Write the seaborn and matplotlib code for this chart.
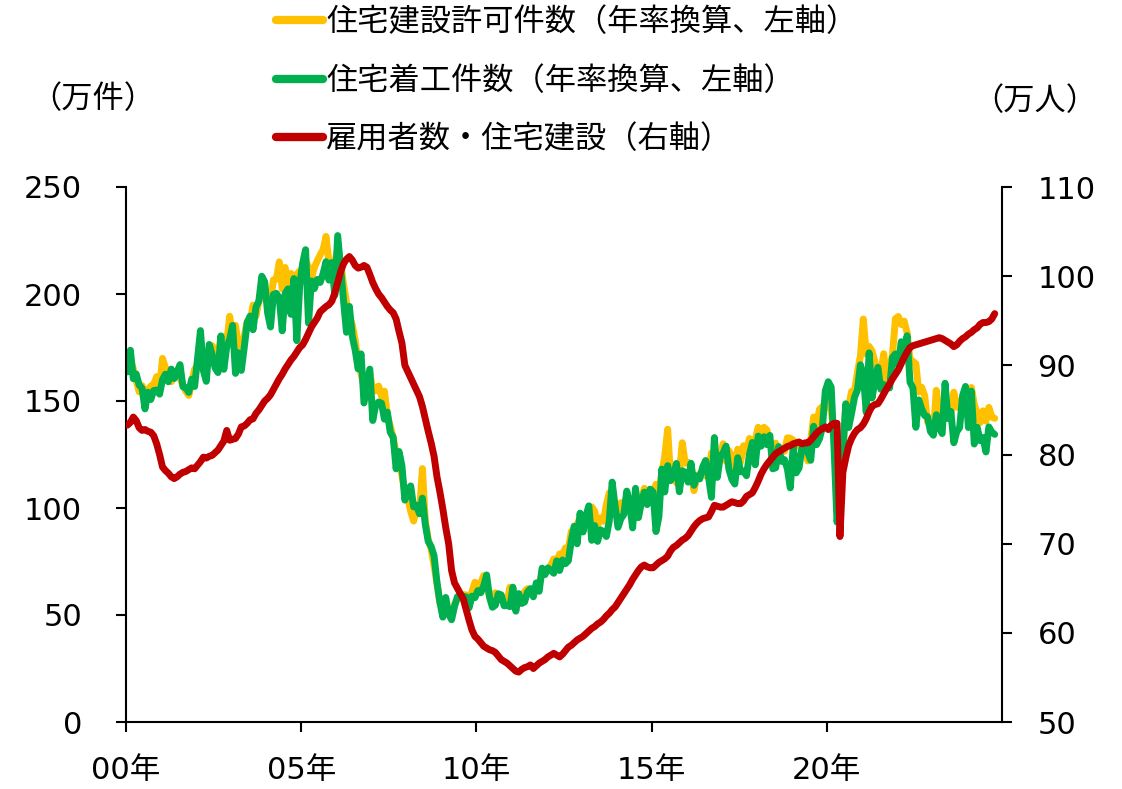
import numpy as np
import pandas as pd
import seaborn as sns
import matplotlib.pyplot as plt
from matplotlib.lines import Line2D

# monthly values, Jan 2000 - Oct 2024
# building permits, annualised (10k units)
permits = [
    172.7, 169.2, 165.1, 159.7, 154.3, 157.2, 154.2, 155.2, 157.0, 157.7, 161.4, 156.1,
    169.9, 165.6, 163.7, 159.0, 162.1, 161.7, 160.9, 157.3, 154.5, 152.6, 158.8, 164.9,
    166.5, 178.7, 169.1, 166.9, 171.6, 175.8, 173.8, 169.5, 180.3, 179.9, 177.1, 189.6,
    180.8, 185.4, 175.7, 176.0, 180.3, 187.1, 186.7, 194.8, 189.6, 196.5, 200.8, 201.2,
    195.2, 196.6, 206.6, 207.0, 215.0, 202.4, 212.4, 202.3, 209.6, 206.1, 209.2, 210.8,
    211.8, 216.0, 212.4, 207.5, 212.4, 215.5, 218.3, 220.7, 226.9, 215.0, 215.0, 214.9,
    221.2, 214.6, 204.5, 196.2, 189.5, 185.6, 178.3, 168.2, 162.9, 156.6, 152.7, 163.0,
    155.4, 154.7, 157.0, 152.1, 154.6, 143.3, 138.3, 133.1, 125.5, 120.2, 115.4, 107.1,
    104.8, 98.4, 93.9, 99.7, 97.6, 118.4, 93.9, 85.5, 80.7, 73.1, 64.7, 55.4,
    53.1, 55.0, 52.0, 49.6, 55.1, 57.3, 59.7, 59.5, 59.4, 56.1, 61.0, 65.3,
    62.7, 65.0, 68.4, 62.5, 59.0, 58.7, 60.4, 57.7, 58.0, 57.6, 56.0, 63.0,
    56.3, 53.4, 58.5, 56.3, 61.0, 62.3, 60.1, 62.5, 61.5, 64.6, 69.8, 70.0,
    71.3, 73.4, 76.2, 74.3, 78.5, 78.2, 81.3, 81.0, 89.0, 89.3, 92.4, 95.5,
    94.2, 95.3, 92.8, 100.5, 98.5, 91.8, 95.4, 93.8, 101.5, 107.1, 105.4, 101.5,
    94.8, 102.5, 99.8, 105.2, 100.5, 97.3, 106.6, 100.2, 104.3, 109.2, 105.1, 106.1,
    106.4, 111.1, 107.6, 116.3, 124.2, 136.8, 114.5, 116.2, 111.7, 116.1, 130.5, 120.9,
    121.4, 120.2, 108.1, 114.5, 116.1, 117.2, 115.0, 115.6, 125.7, 125.2, 121.2, 122.8,
    130.0, 121.9, 126.8, 124.0, 118.9, 127.5, 121.6, 129.1, 126.3, 132.5, 130.2, 132.0,
    137.7, 132.3, 137.7, 136.4, 130.1, 129.2, 130.3, 124.9, 127.0, 126.5, 132.8, 132.6,
    131.7, 129.1, 128.8, 129.0, 129.9, 122.0, 131.7, 142.5, 139.1, 146.1, 147.4, 146.6,
    153.6, 145.2, 135.6, 106.6, 121.6, 125.8, 148.3, 147.6, 154.5, 154.5, 163.5, 170.9,
    188.3, 172.0, 175.5, 173.3, 168.3, 159.8, 163.0, 172.1, 158.6, 165.3, 171.7, 188.5,
    189.5, 185.7, 187.3, 181.9, 169.5, 168.5, 167.4, 154.2, 156.4, 152.6, 140.2, 140.9,
    135.4, 155.0, 143.7, 141.7, 149.6, 144.1, 144.3, 154.1, 147.1, 149.8, 146.7, 149.3,
    148.9, 156.3, 148.5, 144.0, 139.9, 145.4, 140.6, 147.0, 142.5, 141.9,
]

# housing starts, annualised (10k units)
starts = [
    163.6, 173.7, 160.4, 162.6, 157.5, 155.9, 146.3, 154.1, 150.7, 154.9, 155.1, 153.2,
    160.0, 162.5, 159.0, 164.9, 160.5, 163.6, 167.0, 156.7, 156.2, 154.0, 160.2, 156.8,
    169.8, 182.9, 164.2, 159.2, 176.4, 171.7, 165.5, 163.3, 180.4, 164.8, 175.3, 178.8,
    185.3, 162.9, 172.6, 164.3, 175.1, 186.7, 189.7, 183.3, 193.9, 196.7, 208.3, 205.7,
    191.1, 184.6, 199.8, 200.3, 198.1, 182.8, 200.2, 202.4, 190.5, 207.2, 178.2, 204.2,
    214.4, 220.7, 186.4, 206.1, 202.5, 206.8, 205.4, 209.5, 215.1, 206.5, 214.7, 199.4,
    227.3, 211.9, 196.9, 182.1, 194.2, 180.2, 173.7, 165.0, 172.0, 149.1, 157.0, 164.9,
    140.9, 148.0, 149.5, 149.0, 141.5, 144.8, 135.4, 133.0, 118.3, 126.4, 119.7, 103.7,
    108.4, 110.3, 100.5, 101.3, 97.3, 104.6, 92.3, 84.4, 82.0, 77.7, 65.2, 56.0,
    49.0, 58.2, 50.5, 47.8, 54.0, 58.5, 59.4, 58.6, 58.5, 53.4, 58.8, 58.1,
    61.4, 60.4, 63.6, 68.7, 58.3, 53.6, 54.6, 59.9, 59.4, 54.3, 54.5, 53.9,
    63.0, 51.8, 60.0, 55.4, 56.1, 60.8, 62.3, 58.5, 65.0, 61.1, 71.9, 68.9,
    72.0, 70.8, 69.5, 75.3, 70.8, 75.7, 74.0, 75.4, 84.7, 91.5, 83.3, 97.6,
    88.8, 96.2, 101.0, 84.9, 91.8, 84.4, 89.8, 88.9, 86.7, 93.9, 112.1, 100.9,
    91.0, 95.1, 97.0, 107.9, 102.1, 90.7, 109.2, 95.5, 102.5, 107.4, 101.6, 108.8,
    107.5, 89.0, 95.9, 118.2, 107.5, 119.8, 112.8, 115.4, 120.8, 107.6, 117.4, 116.7,
    112.1, 120.9, 110.6, 115.0, 113.6, 119.2, 122.2, 114.5, 105.0, 132.9, 114.3, 123.8,
    125.8, 128.9, 117.9, 113.4, 111.2, 123.5, 116.9, 117.2, 115.1, 124.9, 130.6, 120.2,
    133.6, 128.9, 133.3, 129.6, 133.9, 118.3, 118.8, 128.7, 121.8, 122.6, 118.3, 109.4,
    128.8, 116.4, 118.7, 128.3, 128.0, 125.9, 122.3, 138.2, 129.6, 132.4, 137.7, 154.8,
    159.0, 156.5, 127.6, 93.4, 103.8, 126.5, 148.7, 137.6, 144.4, 151.8, 155.2, 166.9,
    162.5, 144.7, 172.5, 151.4, 159.4, 165.7, 155.5, 157.7, 156.3, 156.1, 170.3, 172.0,
    166.6, 177.7, 171.6, 180.5, 158.8, 156.1, 137.7, 150.5, 146.3, 143.2, 142.7, 135.7,
    134.0, 143.6, 138.0, 134.8, 158.3, 141.8, 145.1, 130.5, 135.6, 137.6, 152.5, 156.8,
    137.6, 154.6, 129.9, 137.7, 131.5, 132.9, 126.2, 137.9, 135.5, 134.4,
]

# employment, residential building (10k persons)
jobs = [
    83.3, 83.6, 84.2, 83.8, 83.0, 82.7, 82.8, 82.6, 82.5, 82.1, 81.2, 80.0,
    78.6, 78.2, 77.9, 77.5, 77.3, 77.5, 77.8, 78.0, 78.1, 78.3, 78.5, 78.4,
    78.8, 79.2, 79.7, 79.6, 79.8, 79.9, 80.2, 80.5, 81.0, 81.5, 82.7, 81.6,
    81.7, 81.8, 82.3, 83.1, 83.2, 83.5, 83.9, 84.0, 84.6, 85.0, 85.5, 86.0,
    86.3, 86.7, 87.3, 87.9, 88.5, 89.0, 89.6, 90.1, 90.6, 91.0, 91.5, 92.0,
    92.3, 92.9, 93.6, 94.3, 94.8, 95.3, 96.0, 96.3, 96.6, 96.8, 97.2, 98.1,
    99.3, 100.5, 101.4, 101.9, 102.2, 101.8, 101.2, 100.9, 101.0, 101.2, 101.0, 100.2,
    99.3, 98.6, 98.0, 97.6, 97.1, 96.6, 96.2, 95.9, 95.2, 93.8, 92.5, 90.0,
    89.3, 88.6, 87.9, 87.2, 86.5, 85.4, 84.0, 82.6, 81.3, 79.8, 77.5, 75.8,
    73.9, 71.8, 70.0, 67.0, 65.6, 65.0, 64.4, 63.8, 62.6, 61.4, 60.3, 59.6,
    59.3, 58.9, 58.5, 58.3, 58.1, 58.0, 57.8, 57.4, 57.0, 56.8, 56.6, 56.3,
    56.0, 55.7, 55.6, 55.9, 56.1, 56.2, 56.4, 56.0, 56.3, 56.6, 56.8, 57.0,
    57.3, 57.5, 57.7, 57.5, 57.3, 57.6, 58.0, 58.4, 58.6, 58.9, 59.2, 59.4,
    59.6, 59.9, 60.2, 60.5, 60.7, 61.0, 61.2, 61.5, 61.9, 62.2, 62.6, 62.9,
    63.4, 63.9, 64.4, 64.9, 65.4, 66.0, 66.5, 67.0, 67.4, 67.6, 67.4, 67.3,
    67.3, 67.6, 67.9, 68.1, 68.3, 68.6, 69.2, 69.6, 69.8, 70.1, 70.4, 70.6,
    70.9, 71.4, 71.9, 72.3, 72.6, 72.8, 72.9, 73.0, 73.6, 74.3, 74.2, 74.1,
    74.1, 74.3, 74.5, 74.7, 74.6, 74.5, 74.5, 74.8, 75.3, 75.5, 75.7, 76.3,
    77.0, 77.8, 78.4, 78.9, 79.3, 79.7, 80.1, 80.3, 80.5, 80.7, 80.9, 81.0,
    81.2, 81.3, 81.4, 81.2, 81.3, 81.3, 81.6, 82.0, 82.4, 82.7, 82.9, 83.1,
    82.8, 83.3, 83.5, 83.5, 70.8, 78.0, 79.6, 81.0, 81.8, 82.4, 82.8, 83.0,
    83.4, 84.0, 84.8, 85.4, 85.6, 85.7, 86.2, 86.8, 87.4, 87.9, 88.5, 89.0,
    89.5, 90.2, 90.9, 91.5, 92.0, 92.2, 92.3, 92.4, 92.5, 92.6, 92.7, 92.8,
    92.9, 93.0, 93.1, 93.0, 92.8, 92.6, 92.4, 92.1, 92.3, 92.7, 93.0, 93.2,
    93.5, 93.7, 94.0, 94.2, 94.6, 94.8, 94.8, 94.9, 95.2, 95.8,
]

tick_years = [2000, 2005, 2010, 2015, 2020]
tick_labels = ["00年", "05年", "10年", "15年", "20年"]
legend_labels = [
    "住宅建設許可件数（年率換算、左軸）",
    "住宅着工件数（年率換算、左軸）",
    "雇用者数・住宅建設（右軸）",
]

YELLOW = "#FFC000"
GREEN = "#00B050"
RED = "#C00000"

months = pd.date_range("2000-01-01", periods=len(starts), freq="MS")
df = pd.DataFrame({
    "t": months.year + (months.month - 0.5) / 12,
    "permits": permits,
    "starts": starts,
    "jobs": jobs,
})

sns.set_theme(style="white", rc={"text.color": "black", "axes.edgecolor": "black"})
plt.rcParams["font.family"] = ["DejaVu Sans", "Noto Sans CJK JP"]
JP = "Noto Sans CJK JP"
FS = 22
FS_JP = 22.5

fig = plt.figure(figsize=(11.22, 7.89), dpi=100)
W, H = 1122, 789
ax = fig.add_axes([126 / W, 1 - 722 / H, (1002 - 126) / W, (722 - 187) / H])

line_kw = dict(lw=5.0, solid_joinstyle="round", solid_capstyle="round")
sns.lineplot(data=df, x="t", y="permits", ax=ax, color=YELLOW, **line_kw)
sns.lineplot(data=df, x="t", y="starts", ax=ax, color=GREEN, **line_kw)
ax2 = ax.twinx()
sns.lineplot(data=df, x="t", y="jobs", ax=ax2, color=RED, **line_kw)

ax.set_xlim(2000, 2025)
ax.set_ylim(0, 250)
ax2.set_ylim(50, 110)
ax.set_xticks(tick_years)
ax.set_xticklabels(tick_labels)
ax.set_yticks(range(0, 251, 50))
ax2.set_yticks(range(50, 111, 10))
for a in (ax, ax2):
    a.set_xlabel("")
    a.set_ylabel("")
    a.spines["top"].set_visible(False)
ax.spines["right"].set_visible(False)
ax2.spines["left"].set_visible(False)
ax2.spines["bottom"].set_visible(False)
for s in ("left", "bottom"):
    ax.spines[s].set_linewidth(1.5)
ax2.spines["right"].set_linewidth(1.5)

tick_kw = dict(direction="out", length=7.5, width=1.5, color="black",
               labelcolor="black", labelsize=FS)
ax.tick_params(axis="x", bottom=True, pad=17, **tick_kw)
ax.tick_params(axis="y", left=True, pad=24, **tick_kw)
ax2.tick_params(axis="y", right=True, pad=18, **tick_kw)

fig.text(93 / W, 1 - 99 / H, "（万件）", ha="center", va="center",
         fontsize=FS_JP, family=JP)
fig.text(1035 / W, 1 - 101 / H, "（万人）", ha="center", va="center",
         fontsize=FS_JP, family=JP)

handles = [Line2D([], [], color=c, lw=6, solid_capstyle="round")
           for c in (YELLOW, GREEN, RED)]
fig.legend(handles, legend_labels, loc="upper left",
           bbox_to_anchor=(276 / W, 1 - 6 / H), frameon=False,
           prop={"family": JP, "size": FS_JP}, handlelength=1.5,
           handletextpad=0.1, labelspacing=0.85, borderpad=0,
           borderaxespad=0)

fig.savefig("out.png", dpi=100)
